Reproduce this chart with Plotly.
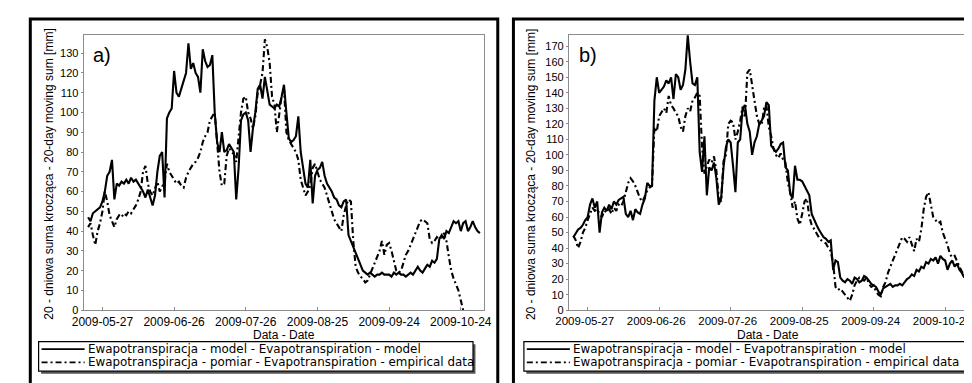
import plotly.graph_objects as go
import pandas as pd

W, H = 972, 383
START = "2009-05-21"

# ---- data (20-day moving sums, mm), daily from 2009-05-21 ----
model_a = [47, 45, 49, 50, 51, 52,
           55, 60, 68, 70, 76, 56, 64, 63, 65, 64,
           66, 64, 67, 65, 66, 64, 62, 60, 57, 61,
           57, 53, 58, 70, 78, 80, 57, 97, 100, 102,
           121, 110, 108, 112, 115, 120, 135, 122, 125, 120,
           118, 110, 132, 126, 123, 124, 129, 100, 85, 80,
           90, 80, 81, 84, 82, 80, 56, 72, 96, 99,
           100, 96, 80, 92, 100, 112, 114, 107, 118, 110,
           104, 103, 102, 104, 103, 108, 114, 100, 87, 85,
           86, 88, 98, 80, 72, 64, 62, 76, 54, 68,
           71, 72, 75, 68, 64, 62, 60, 57, 56, 53,
           52, 55, 56, 38, 35, 32, 28, 25, 22, 20,
           19, 18, 19, 18, 17, 18, 18, 19, 18, 18,
           18, 17, 19, 18, 19, 18, 18, 17, 18, 19,
           18, 20, 22, 20, 19, 21, 23, 22, 25, 24,
           26, 36, 38, 36, 40, 39, 42, 45, 44, 45,
           40, 44, 45, 40, 42, 45, 42, 40, 39]

empirical_a = [42, 44, 38, 33, 40, 44,
               50, 60, 55, 48, 45, 42, 46, 48, 47, 49,
               48, 50, 49, 51, 53, 56, 60, 70, 73, 64,
               60, 58, 62, 65, 60, 63, 65, 74, 70, 68,
               66, 64, 65, 63, 62, 67, 70, 72, 74, 75,
               77, 80, 85, 88, 90, 96, 98, 100, 85, 70,
               63, 64, 78, 82, 80, 79, 75, 88, 100, 107,
               108, 100, 97, 92, 98, 110, 114, 120, 137, 133,
               125, 108, 104, 90, 100, 108, 112, 90, 86, 84,
               82, 80, 76, 66, 62, 58, 60, 63, 72, 74,
               70, 66, 64, 62, 58, 54, 50, 46, 44, 42,
               40, 48, 53, 56, 55, 35, 22, 19, 17, 16,
               14, 15, 18, 20, 23, 27, 30, 35, 28, 33,
               34, 30, 25, 20, 19, 20, 24, 28, 30, 33,
               36, 38, 42, 45, 46, 45, 44, 36, 34, 35,
               37, 36, 37, 39, 35, 27, 20, 16, 13, 10,
               5, 0]

model_b = [47, 50, 52, 53, 55, 58,
           60, 68, 72, 66, 70, 50, 63, 66, 64, 68,
           65, 70, 68, 71, 72, 73, 62, 60, 64, 58,
           65, 63, 62, 68, 72, 82, 80, 80, 135, 150,
           140, 142, 144, 148, 146, 150, 136, 152, 150, 142,
           145, 155, 177, 160, 146, 145, 150, 102, 89, 112,
           74, 92, 90, 95, 85, 68, 72, 92, 105, 110,
           108, 93, 76, 108, 110, 130, 132, 120, 115, 100,
           108, 112, 120, 122, 125, 134, 132, 106, 104, 102,
           104, 107, 108, 92, 90, 75, 72, 93, 84, 84,
           83, 80, 77, 74, 62, 58, 55, 52, 49, 47,
           46, 44, 45, 26, 32, 31, 21, 19, 18, 20,
           19, 17, 21, 20, 18, 19, 22, 21, 19, 17,
           16, 15, 12, 10, 14, 15, 16, 17, 15, 16,
           16, 17, 16, 18, 20, 21, 23, 22, 26, 25,
           28, 27, 31, 30, 33, 32, 34, 30, 35, 33,
           32, 26, 30, 32, 28, 30, 26, 24, 21]

empirical_b = [48, 45, 40, 44, 50, 53,
               58, 62, 66, 64, 65, 62, 60, 64, 63, 65,
               62, 66, 64, 68, 67, 70, 76, 82, 85, 83,
               80, 76, 72, 70, 74, 77, 79, 80, 118, 115,
               125, 128, 130, 127, 138, 132, 130, 127, 125, 118,
               115, 125, 130, 128, 135, 137, 140, 138, 105, 88,
               92, 97, 95, 99, 90, 72, 70, 96, 100, 120,
               122, 121, 110, 115, 122, 131, 124, 153, 155, 144,
               133, 125, 120, 119, 130, 132, 118, 112, 104, 100,
               98, 101, 97, 95, 82, 76, 66, 70, 59, 55,
               62, 70, 72, 60, 55, 52, 50, 47, 45, 44,
               43, 40, 38, 30, 15, 13, 14, 12, 10, 8,
               6, 10, 16, 19, 21, 20, 19, 21, 17, 15,
               16, 12, 10, 9, 15, 18, 24, 28, 32, 35,
               40, 44, 47, 46, 44, 47, 42, 38, 46, 44,
               52, 65, 73, 76, 68, 60, 58, 56, 57, 50,
               46, 42, 36, 34, 35, 31, 28, 25, 22]

tick_dates = ["2009-05-27", "2009-06-26", "2009-07-26",
              "2009-08-25", "2009-09-24", "2009-10-24"]
panel_labels = ["a)", "b)"]
y_ranges = [[0, 139.4], [0, 177.5]]
x_range = ["2009-05-19 03:00", "2009-11-02 15:00"]

name_model = "Ewapotranspiracja - model - Evapotranspiration - model"
name_emp = "Ewapotranspiracja - pomiar - Evapotranspiration - empirical data"
y_title = "20 - dniowa suma krocząca - 20-day moving sum [mm]"
x_title = "Data - Date"

FONT = "Liberation Sans, Arial, sans-serif"
DASHDOT = "6px,3px,2px,3px"
LW = 2.1


def X(px):
    return px / W


def Y(py):
    return 1 - py / H


def dates(n):
    return pd.date_range(START, periods=n, freq="D")


fig = go.Figure()
series = [(model_a, empirical_a, "x", "y"), (model_b, empirical_b, "x2", "y2")]
for mod, emp, xa, ya in series:
    fig.add_trace(go.Scatter(x=dates(len(mod)), y=mod, mode="lines", name=name_model,
                             line=dict(color="black", width=LW), xaxis=xa, yaxis=ya,
                             showlegend=False))
    fig.add_trace(go.Scatter(x=dates(len(emp)), y=emp, mode="lines", name=name_emp,
                             line=dict(color="black", width=LW, dash=DASHDOT), xaxis=xa, yaxis=ya,
                             showlegend=False))

plot_left = [64, 560]
plot_right = [473, 968]
plot_top, plot_bottom = 27, 307

axis_common = dict(showline=True, mirror=True, linecolor="#8c8c8c", linewidth=1,
                   showgrid=False, zeroline=False)
xa_common = dict(axis_common, type="date", range=x_range, tickvals=tick_dates,
                 ticktext=tick_dates, ticks="inside", ticklen=3, tickcolor="#8c8c8c",
                 tickfont=dict(family=FONT, size=12, color="black"))
ya_common = dict(axis_common, dtick=10, tick0=0, ticks="outside", ticklen=2,
                 tickcolor="#8c8c8c", tickfont=dict(family=FONT, size=11, color="black"))

fig.update_layout(
    width=W, height=H, margin=dict(l=0, r=0, t=0, b=0),
    paper_bgcolor="white", plot_bgcolor="white",
    xaxis=dict(xa_common, domain=[X(plot_left[0]), X(plot_right[0])], anchor="y"),
    yaxis=dict(ya_common, domain=[Y(plot_bottom), Y(plot_top)], range=y_ranges[0], anchor="x"),
    xaxis2=dict(xa_common, domain=[X(plot_left[1]), X(plot_right[1])], anchor="y2",
                ticklabelshift=-3, tickfont=dict(family=FONT, size=11.5, color="black")),
    yaxis2=dict(ya_common, domain=[Y(plot_bottom), Y(plot_top)], range=y_ranges[1], anchor="x2"),
)

shapes = []
annotations = []
frame_left = [9.5, 503.3]
frame_right = [487.3, 990]
legend_left = [18, 514]
legend_right = [462, 966]
ytitle_x = [29, 522]

for i in range(2):
    # outer panel frame
    shapes.append(dict(type="rect", xref="paper", yref="paper",
                       x0=X(frame_left[i]), x1=X(frame_right[i]), y0=Y(400), y1=Y(11.3),
                       line=dict(color="black", width=3), fillcolor="rgba(0,0,0,0)", layer="below"))
    # legend shadow + box
    lx0, lx1, ly0, ly1 = legend_left[i], legend_right[i], 339, 369
    shapes.append(dict(type="rect", xref="paper", yref="paper",
                       x0=X(lx0 + 2.5), x1=X(lx1 + 2.5), y0=Y(ly1 + 2.5), y1=Y(ly0 + 2.5),
                       line=dict(width=0), fillcolor="#555555"))
    shapes.append(dict(type="rect", xref="paper", yref="paper",
                       x0=X(lx0), x1=X(lx1), y0=Y(ly1), y1=Y(ly0),
                       line=dict(color="black", width=1.2), fillcolor="white"))
    # legend samples
    for row_y, dash, label in [(346.5, "solid", name_model), (360, DASHDOT, name_emp)]:
        shapes.append(dict(type="line", xref="paper", yref="paper",
                           x0=X(lx0 + 3), x1=X(lx0 + 47), y0=Y(row_y), y1=Y(row_y),
                           line=dict(color="black", width=1.8, dash=dash)))
        annotations.append(dict(xref="paper", yref="paper", x=X(lx0 + 48.5), y=Y(row_y),
                                xanchor="left", yanchor="middle", showarrow=False, text=label,
                                font=dict(family="DejaVu Sans", size=11.9, color="black")))
    # y title
    annotations.append(dict(xref="paper", yref="paper", x=X(ytitle_x[i]),
                            y=Y((plot_top + plot_bottom + 4) / 2), textangle=-90,
                            xanchor="center", yanchor="middle", showarrow=False, text=y_title,
                            font=dict(family=FONT, size=12, color="black")))
    # x title
    annotations.append(dict(xref="paper", yref="paper",
                            x=X((plot_left[i] + plot_right[i]) / 2), y=Y(332.5),
                            xanchor="center", yanchor="middle", showarrow=False, text=x_title,
                            font=dict(family=FONT, size=12, color="black")))
    # panel label
    annotations.append(dict(xref="paper", yref="paper", x=X(plot_left[i] + 8), y=Y(47.5),
                            xanchor="left", yanchor="middle", showarrow=False,
                            text=panel_labels[i],
                            font=dict(family=FONT, size=20, color="black")))

fig.update_layout(shapes=shapes, annotations=annotations)
fig.write_html("out.html")
